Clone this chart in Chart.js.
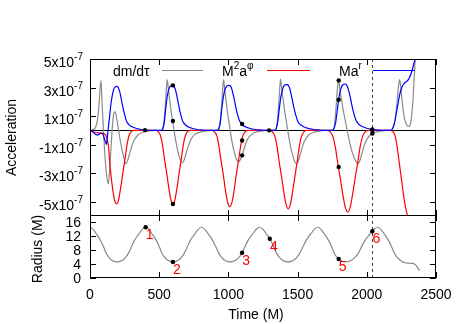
<!DOCTYPE html>
<html>
<head>
<meta charset="utf-8">
<script src="https://cdn.jsdelivr.net/npm/chart.js@4.4.0/dist/chart.umd.min.js"></script>
<style>
  html, body { margin: 0; padding: 0; background: #fff; }
  #wrap { position: relative; width: 463px; height: 324px; }
  #wrap canvas { position: absolute; left: 0; top: 0; }
</style>
</head>
<body>
<div id="wrap">
  <canvas id="accChart" width="463" height="324"></canvas>
  <canvas id="radChart" width="463" height="324"></canvas>
</div>
<script>
// acceleration values are in units of 1e-7, pairs are [time (M), value]
const ACC_UNIT = 1e-7;

const dmdtau = [
  [0,0],[20,0.05],[40,0.2],[55,0.8],[67,2.0],[79,3.5],[88,1.8],[100,-0.5],[112,-2.3],[122,-3.3],[132,-3.75],
  [142,-2.8],[152,-1.2],[162,0.3],[172,1.2],[182,1.3],[192,0.9],[202,0.3],[215,-0.5],[230,-1.3],[245,-1.95],
  [260,-2.33],[270,-2.17],[283,-1.75],[298,-1.24],[313,-0.82],[328,-0.54],[348,-0.31],[378,-0.15],[418,-0.06],[460,0],
  [500,0],[523,0.05],[533,0.5],[543,1.6],[551,2.8],[558,3.55],[566,2.9],[576,2.1],[586,1.35],[597,0.66],[607,0],
  [617,-0.6],[632,-1.35],[647,-1.9],[659,-2.18],[669,-2.26],[679,-2.1],[692,-1.7],[707,-1.2],[722,-0.8],[737,-0.52],
  [757,-0.3],[787,-0.15],[827,-0.06],[869,0],
  [900,0],[930,0.05],[940,0.5],[950,1.6],[958,2.8],[965,3.55],[973,2.9],[983,2.1],[992,1.35],[1003,0.66],[1013,0],
  [1022,-0.58],[1037,-1.31],[1052,-1.85],[1063,-2.12],[1073,-2.2],[1083,-2.1],[1096,-1.85],[1111,-1.35],[1126,-0.9],
  [1141,-0.58],[1161,-0.33],[1191,-0.15],[1231,-0.06],[1273,0],
  [1310,0],[1342,0.05],[1352,0.5],[1362,1.6],[1370,2.8],[1377,3.6],[1385,2.94],[1396,2.13],[1406,1.37],[1418,0.67],
  [1429,0],[1439,-0.62],[1455,-1.39],[1471,-1.96],[1483,-2.25],[1494,-2.33],[1504,-2.17],[1517,-1.75],[1532,-1.24],
  [1547,-0.82],[1562,-0.54],[1582,-0.31],[1612,-0.15],[1652,-0.06],[1694,0],
  [1730,0],[1758,0.05],[1768,0.5],[1778,1.6],[1787,2.8],[1795,3.55],[1805,2.9],[1818,2.1],[1831,1.35],[1845,0.66],
  [1858,0],[1871,-0.62],[1890,-1.39],[1910,-1.96],[1925,-2.25],[1938,-2.33],[1948,-2.17],[1961,-1.75],[1976,-1.24],
  [1991,-0.82],[2006,-0.54],[2026,-0.31],[2056,-0.15],[2096,-0.06],[2138,0],
  [2170,0],[2190,0.2],[2205,0.8],[2218,1.9],[2228,3.0],[2237,3.55],[2246,3.0],[2258,1.8],[2270,0.95],[2283,0.5],
  [2296,0.3],[2306,0.28],[2316,0.5],[2326,1.2],[2336,2.5],[2346,4.3],[2356,6.2]
];

const aPhi = [
  [0,0],[15,-0.08],[40,-0.15],[70,-0.18],[100,-0.22],[117,-0.4],[132,-1.0],[144,-2.4],[157,-3.6],[170,-4.5],[181,-5.0],
  [192,-5.16],[207,-4.85],[222,-4.0],[237,-3.0],[252,-2.06],[267,-1.03],[282,-0.36],[297,-0.1],[317,0],
  [474,0],[494,-0.1],[509,-0.36],[524,-1.03],[539,-2.06],[554,-3.0],[569,-4.0],[584,-4.85],[599,-5.16],[614,-4.85],
  [629,-4.0],[644,-3.0],[659,-2.06],[674,-1.03],[689,-0.36],[704,-0.1],[724,0],
  [879,0],[900,-0.11],[916,-0.37],[931,-1.07],[947,-2.14],[963,-3.1],[978,-4.17],[994,-5.03],[1010,-5.35],[1026,-5.03],
  [1042,-4.17],[1057,-3.1],[1073,-2.14],[1089,-1.07],[1105,-0.37],[1120,-0.11],[1141,0],
  [1297,0],[1319,-0.11],[1335,-0.39],[1351,-1.1],[1367,-2.2],[1383,-3.19],[1400,-4.29],[1416,-5.17],[1432,-5.5],
  [1448,-5.17],[1464,-4.29],[1481,-3.19],[1497,-2.2],[1513,-1.1],[1529,-0.39],[1545,-0.11],[1567,0],
  [1712,0],[1736,-0.11],[1754,-0.4],[1772,-1.14],[1790,-2.29],[1808,-3.32],[1826,-4.46],[1844,-5.38],[1862,-5.72],
  [1880,-5.38],[1898,-4.46],[1916,-3.32],[1934,-2.29],[1952,-1.14],[1970,-0.4],[1988,-0.11],[2012,0],
  [2170,0],[2190,-0.1],[2205,-0.4],[2220,-1.2],[2235,-2.3],[2250,-3.4],[2265,-4.5],[2280,-5.4],[2295,-6.0],[2310,-6.5]
];

const aR = [
  [0,0],[12,-0.05],[24,-0.15],[40,-0.28],[60,-0.32],[72,-0.22],[84,-0.2],[96,-0.35],[108,-0.7],[118,-0.98],[124,-0.6],
  [132,0.15],[142,1.0],[152,1.9],[162,2.5],[172,2.9],[182,3.05],[192,3.08],[202,3.03],[212,2.8],[222,2.4],[232,1.9],
  [242,1.42],[252,1.03],[262,0.7],[272,0.51],[287,0.35],[307,0.23],[332,0.15],[362,0.08],[392,0.03],[432,0],
  [517,0],[527,0.15],[537,0.6],[547,1.5],[557,2.3],[567,2.8],[577,3.05],[587,3.14],[597,3.15],[607,3.1],[617,2.85],
  [627,2.45],[637,1.95],[647,1.45],[657,1.05],[667,0.72],[677,0.52],[692,0.36],[712,0.24],[737,0.15],[767,0.08],
  [797,0.03],[837,0],
  [921,0],[931,0.15],[942,0.6],[952,1.5],[963,2.3],[973,2.8],[984,3.05],[994,3.14],[1005,3.15],[1015,3.1],[1026,2.85],
  [1036,2.45],[1047,1.95],[1057,1.45],[1068,1.05],[1078,0.72],[1089,0.52],[1105,0.36],[1126,0.24],[1152,0.15],
  [1183,0.08],[1215,0.03],[1257,0],
  [1336,0],[1346,0.15],[1357,0.61],[1368,1.52],[1379,2.34],[1390,2.84],[1400,3.1],[1411,3.19],[1422,3.2],[1433,3.15],
  [1444,2.9],[1454,2.49],[1465,1.98],[1476,1.47],[1487,1.07],[1498,0.73],[1508,0.53],[1525,0.37],[1546,0.24],
  [1573,0.15],[1606,0.08],[1638,0.03],[1681,0],
  [1752,0],[1764,0.15],[1775,0.55],[1786,1.35],[1797,2.15],[1808,2.75],[1820,3.1],[1831,3.22],[1842,3.25],[1853,3.2],
  [1864,2.94],[1876,2.53],[1887,2.01],[1898,1.5],[1909,1.08],[1920,0.74],[1932,0.54],[1948,0.37],[1971,0.25],
  [1999,0.15],[2032,0.08],[2066,0.03],[2111,0],
  [2170,0],[2185,0.1],[2200,0.5],[2215,1.3],[2228,2.0],[2240,2.6],[2255,3.05],[2270,3.3],[2285,3.4],[2300,3.55],
  [2315,3.85],[2330,4.3],[2345,4.85],[2360,5.5]
];

// marked instants: acceleration values on the curves, and radius
const accDots = [
  [397,0.02],[599,3.15],[599,0.66],[599,-5.16],[1099,0.45],[1099,-0.71],[1099,-1.75],[1294,0],
  [1797,3.5],[1797,2.14],[1797,-2.57],[2040,0.07],[2040,0],[2040,-0.22]
];

// radius (M) vs time (M)
const radius = [
  [0,14.4],[20,14.05],[39,13.0],[59,11.9],[78,10.6],[98,8.9],[117,7.1],[137,5.9],[156,5.15],[176,4.75],[195,4.6],
  [216,4.75],[236,5.15],[257,5.9],[278,7.1],[299,8.9],[319,10.6],[340,11.9],[361,13.0],[381,14.05],[402,14.5],
  [422,14.05],[441,13.0],[461,11.9],[481,10.6],[501,8.9],[520,7.1],[540,5.9],[560,5.15],[579,4.75],[599,4.6],
  [620,4.75],[640,5.15],[661,5.9],[682,7.1],[703,8.9],[723,10.6],[744,11.9],[765,13.0],[785,14.05],[806,14.5],
  [827,14.05],[847,13.0],[868,11.9],[888,10.6],[909,8.9],[930,7.1],[950,5.9],[971,5.15],[991,4.75],[1012,4.6],
  [1033,4.75],[1055,5.15],[1076,5.9],[1098,7.1],[1119,8.9],[1140,10.6],[1162,11.9],[1183,13.0],[1205,14.05],[1226,14.5],
  [1246,14.05],[1267,13.0],[1287,11.9],[1308,10.6],[1328,8.9],[1348,7.1],[1369,5.9],[1389,5.15],[1410,4.75],[1430,4.6],
  [1452,4.75],[1473,5.15],[1495,5.9],[1516,7.1],[1538,8.9],[1560,10.6],[1581,11.9],[1603,13.0],[1624,14.05],[1646,14.5],
  [1666,14.05],[1686,13.0],[1706,11.9],[1726,10.6],[1746,8.9],[1765,7.1],[1785,5.9],[1805,5.15],[1825,4.75],[1845,4.6],
  [1868,4.75],[1892,5.15],[1915,5.9],[1939,7.1],[1962,8.9],[1985,10.6],[2009,11.9],[2032,13.0],[2056,14.05],[2079,14.5],
  [2099,14.05],[2119,13.0],[2139,11.9],[2159,10.6],[2179,8.9],[2199,7.1],[2219,5.9],[2239,5.15],[2259,4.6],[2280,4.35],
  [2300,4.25],[2320,4.2],[2340,4.1],[2355,3.6],[2370,2.8],[2381,2.1]
];

const radDots = [[402,14.5],[599,4.6],[1099,7.2],[1299,11.2],[1797,5.45],[2040,13.35]];
const dotNames = ['1','2','3','4','5','6'];

const timeTicks = [0, 500, 1000, 1500, 2000, 2500];
const accTicks = [-5, -3, -1, 1, 3, 5];
const radTicks = [0, 4, 8, 12, 16];
const markerTime = 2040;

const FONT = '14px "Liberation Sans", Arial, sans-serif';
const SUP = '10px "Liberation Sans", Arial, sans-serif';
const GRAY = '#8a8a8a', RED = '#ff0000', BLUE = '#0000ff';

const pts = (arr, k = 1) => arr.map(([t, v]) => ({ x: t, y: v * k }));

// text pieces: [string, superscript?]
function richText(ctx, parts, x, y, align) {
  const w = parts.map(([s, sup]) => { ctx.font = sup ? SUP : FONT; return ctx.measureText(s).width; });
  const total = w.reduce((a, b) => a + b, 0);
  let cx = align === 'right' ? x - total : align === 'center' ? x - total / 2 : x;
  ctx.textAlign = 'left';
  ctx.textBaseline = 'alphabetic';
  parts.forEach(([s, sup], i) => {
    ctx.font = sup ? SUP : FONT;
    ctx.fillText(s, cx, sup ? y - 7 : y);
    cx += w[i];
  });
}

function drawFrame(ctx, a, x, y, yTicks) {
  ctx.strokeStyle = '#000';
  ctx.lineWidth = 1;
  ctx.setLineDash([]);
  ctx.strokeRect(a.left + 0.5, a.top + 0.5, a.right - a.left - 1, a.bottom - a.top - 1);
  ctx.beginPath();
  timeTicks.forEach(t => {
    const px = Math.round(x.getPixelForValue(t)) + 0.5;
    ctx.moveTo(px, a.bottom); ctx.lineTo(px, a.bottom - 6);
    ctx.moveTo(px, a.top); ctx.lineTo(px, a.top + 6);
  });
  yTicks.forEach(v => {
    const py = Math.round(y.getPixelForValue(v)) + 0.5;
    ctx.moveTo(a.left, py); ctx.lineTo(a.left + 6, py);
    ctx.moveTo(a.right, py); ctx.lineTo(a.right - 6, py);
  });
  ctx.stroke();
}

function drawMarker(ctx, a, x) {
  const px = Math.round(x.getPixelForValue(markerTime)) + 0.5;
  ctx.save();
  ctx.strokeStyle = '#444';
  ctx.lineWidth = 1;
  ctx.setLineDash([3, 3]);
  ctx.beginPath();
  ctx.moveTo(px, a.top); ctx.lineTo(px, a.bottom);
  ctx.stroke();
  ctx.restore();
}

function vTitle(ctx, text, cx, cy) {
  ctx.save();
  ctx.translate(cx, cy);
  ctx.rotate(-Math.PI / 2);
  ctx.font = FONT;
  ctx.fillStyle = '#000';
  ctx.textAlign = 'center';
  ctx.textBaseline = 'middle';
  ctx.fillText(text, 0, 0);
  ctx.restore();
}

const accDecor = {
  id: 'accDecor',
  beforeDatasetsDraw(chart) {
    const { ctx, chartArea: a, scales: { x, y } } = chart;
    ctx.save();
    const y0 = Math.round(y.getPixelForValue(0)) + 0.5;
    ctx.strokeStyle = '#000';
    ctx.lineWidth = 1;
    ctx.beginPath();
    ctx.moveTo(a.left, y0); ctx.lineTo(a.right, y0);
    ctx.stroke();
    drawMarker(ctx, a, x);
    ctx.restore();
  },
  afterDatasetsDraw(chart) {
    const { ctx, chartArea: a, scales: { x, y } } = chart;
    ctx.save();
    drawFrame(ctx, a, x, y, accTicks.map(v => v * ACC_UNIT));
    ctx.fillStyle = '#000';
    accTicks.forEach(v => {
      const py = y.getPixelForValue(v * ACC_UNIT);
      richText(ctx, [[v + 'x10', false], ['-7', true]], a.left - 7, py + 8, 'right');
    });
    vTitle(ctx, 'Acceleration', 12, (a.top + a.bottom) / 2);

    // legend
    const ly = 76, lineY = 70.5;
    ctx.fillStyle = '#000';
    richText(ctx, [['dm/dτ', false]], 113, ly, 'left');
    richText(ctx, [['M', false], ['2', true], ['a', false], ['φ', true]], 222, ly, 'left');
    richText(ctx, [['Ma', false], ['r', true]], 339, ly, 'left');
    [[162, 203, GRAY], [267, 310, RED], [373, 415, BLUE]].forEach(([x1, x2, c]) => {
      ctx.strokeStyle = c;
      ctx.lineWidth = 1.2;
      ctx.beginPath();
      ctx.moveTo(x1, lineY); ctx.lineTo(x2, lineY);
      ctx.stroke();
    });
    ctx.restore();
  }
};

const radDecor = {
  id: 'radDecor',
  beforeDatasetsDraw(chart) {
    const { ctx, chartArea: a, scales: { x } } = chart;
    drawMarker(ctx, a, x);
  },
  afterDatasetsDraw(chart) {
    const { ctx, chartArea: a, scales: { x, y } } = chart;
    ctx.save();
    drawFrame(ctx, a, x, y, radTicks);
    ctx.fillStyle = '#000';
    ctx.font = FONT;
    ctx.textAlign = 'right';
    ctx.textBaseline = 'alphabetic';
    radTicks.forEach(v => ctx.fillText(String(v), a.left - 9, y.getPixelForValue(v) + 5));
    ctx.textAlign = 'center';
    timeTicks.forEach(t => ctx.fillText(String(t), x.getPixelForValue(t), 299));
    ctx.fillText('Time (M)', 256, 319);
    vTitle(ctx, 'Radius (M)', 38, 249);

    // red numbers beside the marked points
    ctx.fillStyle = RED;
    ctx.textAlign = 'center';
    ctx.textBaseline = 'middle';
    radDots.forEach(([t, r], i) => {
      ctx.fillText(dotNames[i], x.getPixelForValue(t) + 4, y.getPixelForValue(r) + 8);
    });
    ctx.restore();
  }
};

const lineStyle = (data, color, order) => ({
  data, borderColor: color, borderWidth: 1.2, pointRadius: 0,
  cubicInterpolationMode: 'monotone', fill: false, order
});
const dotStyle = data => ({
  data, showLine: false, pointRadius: 2.2, pointBackgroundColor: '#000',
  pointBorderWidth: 0, order: 0
});

const common = {
  responsive: false,
  animation: false,
  devicePixelRatio: 1,
  events: [],
  plugins: { legend: { display: false }, tooltip: { enabled: false } }
};

new Chart(document.getElementById('accChart'), {
  type: 'line',
  data: {
    datasets: [
      lineStyle(pts(dmdtau, ACC_UNIT), GRAY, 3),
      lineStyle(pts(aPhi, ACC_UNIT), RED, 2),
      lineStyle(pts(aR, ACC_UNIT), BLUE, 1),
      dotStyle(pts(accDots, ACC_UNIT))
    ]
  },
  options: {
    ...common,
    layout: { padding: { left: 90, right: 27, top: 59, bottom: 108 } },
    scales: {
      x: { type: 'linear', min: 0, max: 2500, display: false },
      y: { type: 'linear', min: -6e-7, max: 5e-7, display: false }
    }
  },
  plugins: [accDecor]
});

new Chart(document.getElementById('radChart'), {
  type: 'line',
  data: {
    datasets: [
      lineStyle(pts(radius), GRAY, 1),
      dotStyle(pts(radDots))
    ]
  },
  options: {
    ...common,
    layout: { padding: { left: 90, right: 27, top: 215, bottom: 46 } },
    scales: {
      x: { type: 'linear', min: 0, max: 2500, display: false },
      y: { type: 'linear', min: 0, max: 18, display: false }
    }
  },
  plugins: [radDecor]
});
</script>
</body>
</html>
